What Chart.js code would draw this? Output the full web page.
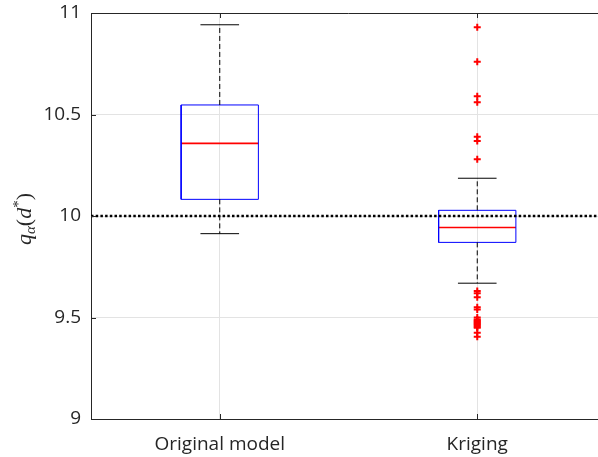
<!DOCTYPE html>
<html>
<head>
<meta charset="utf-8">
<script src="https://cdn.jsdelivr.net/npm/chart.js@4"></script>
<style>
html,body{margin:0;padding:0;background:#fff;overflow:hidden;}
#wrap{width:620px;height:457px;}
</style>
</head>
<body>
<div id="wrap"><canvas id="c" width="620" height="457"></canvas></div>
<script>
// ---- data ----
const categories = ['Original model', 'Kriging'];
const lowerWhisker = [9.913, 9.669];
const q1 = [10.082, 9.870];
const median = [10.358, 9.943];
const q3 = [10.547, 10.028];
const upperWhisker = [10.942, 10.186];
const originalOutliers = [];
const krigingOutliers = [10.93, 10.76, 10.59, 10.56, 10.39, 10.37, 10.28,
  9.63, 9.62, 9.60, 9.55, 9.54, 9.50, 9.49, 9.485, 9.48, 9.475, 9.47, 9.465,
  9.46, 9.455, 9.45, 9.425, 9.405];
const outliers = [originalOutliers, krigingOutliers];
const referenceValue = 10;
const yTicks = [9, 9.5, 10, 10.5, 11];

// ---- styles ----
const BOX_HALF = 0.15, CAP_HALF = 0.075;
const AX = '#262626';

const datasets = [];
function seg(pts, color, width, dash) {
  datasets.push({ data: pts, showLine: true, borderColor: color, borderWidth: width,
    borderDash: dash || [], pointRadius: 0, fill: false, tension: 0 });
}
// reference line
seg([{x:0.5,y:referenceValue},{x:2.5,y:referenceValue}], '#000', 2.5, [2.5,2.2]);
categories.forEach((c, i) => {
  const x = i + 1;
  seg([{x:x,y:q3[i]},{x:x,y:upperWhisker[i]}], '#000', 1, [5,3]);
  seg([{x:x,y:q1[i]},{x:x,y:lowerWhisker[i]}], '#000', 1, [5,3]);
  seg([{x:x-CAP_HALF,y:upperWhisker[i]},{x:x+CAP_HALF,y:upperWhisker[i]}], '#000', 1);
  seg([{x:x-CAP_HALF,y:lowerWhisker[i]},{x:x+CAP_HALF,y:lowerWhisker[i]}], '#000', 1);
  seg([{x:x-BOX_HALF,y:q1[i]},{x:x+BOX_HALF,y:q1[i]},{x:x+BOX_HALF,y:q3[i]},
       {x:x-BOX_HALF,y:q3[i]},{x:x-BOX_HALF,y:q1[i]}], '#0000ff', 1);
  seg([{x:x-BOX_HALF,y:median[i]},{x:x+BOX_HALF,y:median[i]}], '#ff0000', 1.6);
  datasets.push({ data: outliers[i].map(v => ({x:x, y:v})), showLine: false,
    pointStyle: 'cross', pointRadius: 3.5, borderColor: '#ff0000', borderWidth: 2,
    backgroundColor: '#ff0000' });
});

const framePlugin = {
  id: 'frame',
  afterDatasetsDraw(chart) {
    const {ctx, chartArea: a, scales} = chart;
    ctx.save();
    ctx.strokeStyle = AX; ctx.lineWidth = 1;
    ctx.beginPath();
    ctx.moveTo(a.left, a.top + 0.5); ctx.lineTo(a.right, a.top + 0.5);
    yTicks.forEach(v => {
      const y = Math.round(scales.y.getPixelForValue(v)) + 0.5;
      ctx.moveTo(a.left, y); ctx.lineTo(a.left + 5, y);
    });
    categories.forEach((c, i) => {
      const x = Math.round(scales.x.getPixelForValue(i + 1)) + 0.5;
      ctx.moveTo(x, a.bottom); ctx.lineTo(x, a.bottom - 5);
      ctx.moveTo(x, a.top); ctx.lineTo(x, a.top + 5);
    });
    ctx.stroke();
    ctx.restore();
  },
  afterDraw(chart) {
    const ctx = chart.ctx;
    const parts = [
      {t:'q', f:'italic 22px "Liberation Serif"', dy:0},
      {t:'α', f:'italic 15px "Liberation Serif"', dy:4},
      {t:'(', f:'22px "Liberation Serif"', dy:0},
      {t:'d', f:'italic 22px "Liberation Serif"', dy:0},
      {t:'*', f:'15px "Liberation Serif"', dy:-8},
      {t:')', f:'22px "Liberation Serif"', dy:0}
    ];
    ctx.save();
    let w = 0;
    parts.forEach(p => { ctx.font = p.f; p.w = ctx.measureText(p.t).width; w += p.w; });
    ctx.translate(31, 219);
    ctx.rotate(-Math.PI/2);
    ctx.fillStyle = AX; ctx.textBaseline = 'alphabetic';
    let x = -w/2;
    parts.forEach(p => { ctx.font = p.f; ctx.fillText(p.t, x, p.dy); x += p.w; });
    ctx.restore();
  }
};

new Chart(document.getElementById('c'), {
  type: 'scatter',
  data: { datasets },
  options: {
    responsive: false, animation: false,
    layout: { padding: { left: 0, right: 14, top: 13, bottom: 0 } },
    plugins: { legend: { display: false }, tooltip: { enabled: false } },
    scales: {
      x: {
        type: 'linear', min: 0.5, max: 2.5,
        afterBuildTicks: s => { s.ticks = categories.map((c, i) => ({ value: i + 1 })); },
        afterFit: s => { s.height = 38; s.paddingLeft = 0; s.paddingRight = 0; },
        ticks: { callback: v => categories[v - 1], color: AX, padding: 14,
          font: { family: 'Open Sans', size: 19 } , maxRotation: 0, autoSkip: false},
        grid: { color: '#e3e3e3', drawTicks: false },
        border: { color: AX, width: 1 }
      },
      y: {
        min: 9, max: 11,
        afterBuildTicks: s => { s.ticks = yTicks.map(v => ({ value: v })); },
        afterFit: s => { s.width = 91; s.paddingTop = 0; s.paddingBottom = 0; },
        ticks: { color: AX, padding: 10, font: { family: 'Open Sans', size: 19 },
          callback: v => String(v) },
        grid: { color: '#e3e3e3', drawTicks: false },
        border: { color: AX, width: 1 }
      }
    }
  },
  plugins: [framePlugin]
});
</script>
</body>
</html>
